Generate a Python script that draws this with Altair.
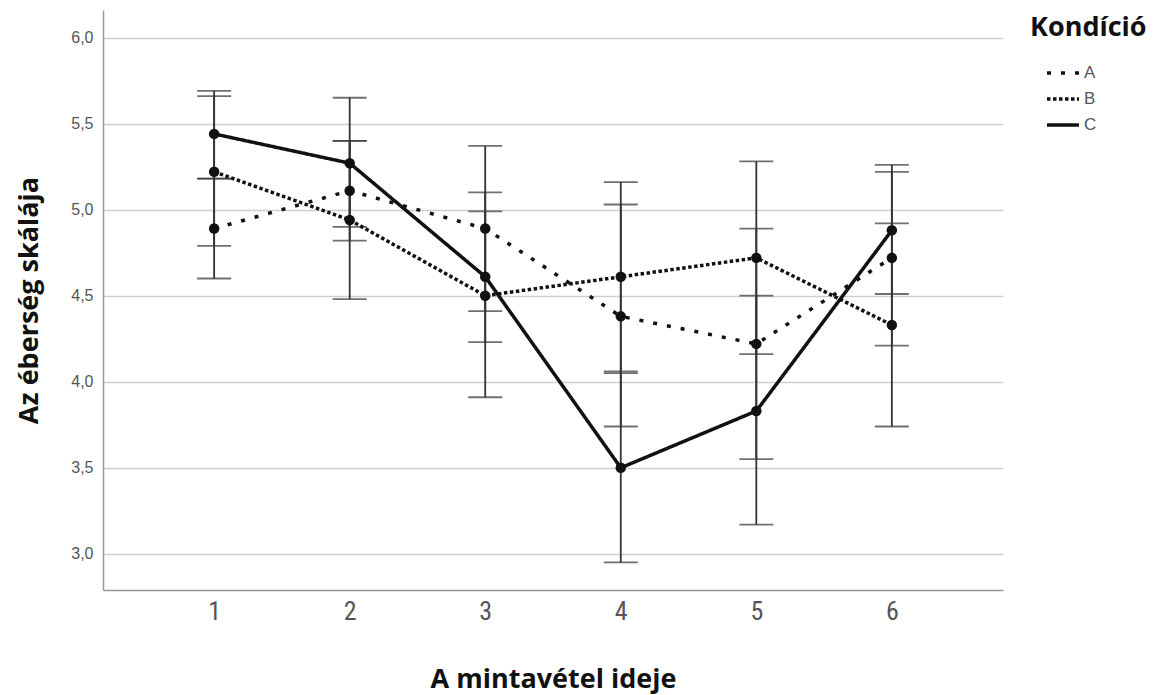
import altair as alt
import pandas as pd

times = [1, 2, 3, 4, 5, 6]
conditions = ["A", "B", "C"]

mean_A = [4.89, 5.11, 4.89, 4.38, 4.22, 4.72]
lo_A = [4.60, 4.82, 4.41, 3.74, 3.55, 4.21]
hi_A = [5.18, 5.40, 5.37, 5.03, 4.89, 5.22]

mean_B = [5.22, 4.94, 4.50, 4.61, 4.72, 4.33]
lo_B = [4.79, 4.48, 3.91, 4.06, 4.16, 3.74]
hi_B = [5.66, 5.40, 5.10, 5.16, 5.28, 4.92]

mean_C = [5.44, 5.27, 4.61, 3.50, 3.83, 4.88]
lo_C = [5.18, 4.90, 4.23, 2.95, 3.17, 4.51]
hi_C = [5.69, 5.65, 4.99, 4.05, 4.50, 5.26]

y_ticks = [3.0, 3.5, 4.0, 4.5, 5.0, 5.5, 6.0]

rows = []
for cond, m, lo, hi in [("A", mean_A, lo_A, hi_A), ("B", mean_B, lo_B, hi_B), ("C", mean_C, lo_C, hi_C)]:
    for t, mv, lv, hv in zip(times, m, lo, hi):
        rows.append({"time": t, "cond": cond, "mean": mv, "lo": lv, "hi": hv})
df = pd.DataFrame(rows)

TITLE_FONT = "Open Sans"
LABEL_FONT = "Liberation Sans"
NARROW_FONT = "Liberation Sans Narrow, Roboto Condensed, Liberation Sans"

xscale = alt.Scale(domain=[0.18, 6.82], nice=False, zero=False)
yscale = alt.Scale(domain=[2.79, 6.16], nice=False, zero=False)

xaxis = alt.Axis(values=times, format="d", grid=False, ticks=False,
                 labelFontSize=26, labelFont=NARROW_FONT, labelColor="#555",
                 labelPadding=8, domainColor="#999", domainWidth=1.5,
                 title="A mintavétel ideje", titleFont=TITLE_FONT, titleFontSize=27,
                 titleFontWeight="bold", titleColor="#111", titlePadding=42)
yaxis = alt.Axis(values=y_ticks, labelExpr="replace(format(datum.value, '.1f'), '.', ',')",
                 ticks=False, grid=True, gridColor="#cfcfcf", gridWidth=1.5,
                 labelFontSize=16, labelFont=LABEL_FONT, labelColor="#555",
                 labelPadding=10, domainColor="#999", domainWidth=1.5,
                 title="Az éberség skálája", titleFont=TITLE_FONT, titleFontSize=27,
                 titleFontWeight="bold", titleColor="#111", titlePadding=27)


def X():
    return alt.X("time:Q", scale=xscale, axis=xaxis)


def Y(field):
    return alt.Y(f"{field}:Q", scale=yscale, axis=yaxis)


base = alt.Chart(df)

ERR_COLOR = "#333"
err = base.mark_rule(color=ERR_COLOR, strokeWidth=1.8).encode(x=X(), y=Y("lo"), y2="hi:Q")
cap_lo = base.mark_tick(orient="horizontal", size=34, thickness=1.8, color=ERR_COLOR).encode(x=X(), y=Y("lo"))
cap_hi = base.mark_tick(orient="horizontal", size=34, thickness=1.8, color=ERR_COLOR).encode(x=X(), y=Y("hi"))

lines = base.mark_line(strokeWidth=3.5, strokeCap="butt", color="#111").encode(
    x=X(), y=Y("mean"),
    strokeDash=alt.StrokeDash(
        "cond:N",
        scale=alt.Scale(domain=conditions, range=[[4, 10], [3.5, 2.5], [1, 0]]),
        legend=alt.Legend(
            title="Kondíció", orient="none", legendX=927, legendY=5,
            titleFont=TITLE_FONT, titleFontSize=27, titleFontWeight="bold", titleColor="#111",
            titlePadding=13,
            labelFont=LABEL_FONT, labelFontSize=17, labelColor="#555", labelOffset=3,
            symbolType="stroke", symbolSize=1024, symbolStrokeWidth=3.5,
            symbolStrokeColor="#111", symbolOffset=15, rowPadding=0, padding=0,
        ),
    ),
)

points = base.mark_circle(size=110, color="#111", opacity=1).encode(
    x=X(), y=Y("mean"), detail="cond:N"
)

chart = alt.layer(err, cap_lo, cap_hi, lines, points).properties(
    width=900, height=580,
    autosize=alt.AutoSizeParams(type="none"),
    padding={"left": 95, "top": 2, "right": 150, "bottom": 105},
).configure_view(stroke=None)

chart.save("out.html", embed_options={"renderer": "svg", "actions": False})
